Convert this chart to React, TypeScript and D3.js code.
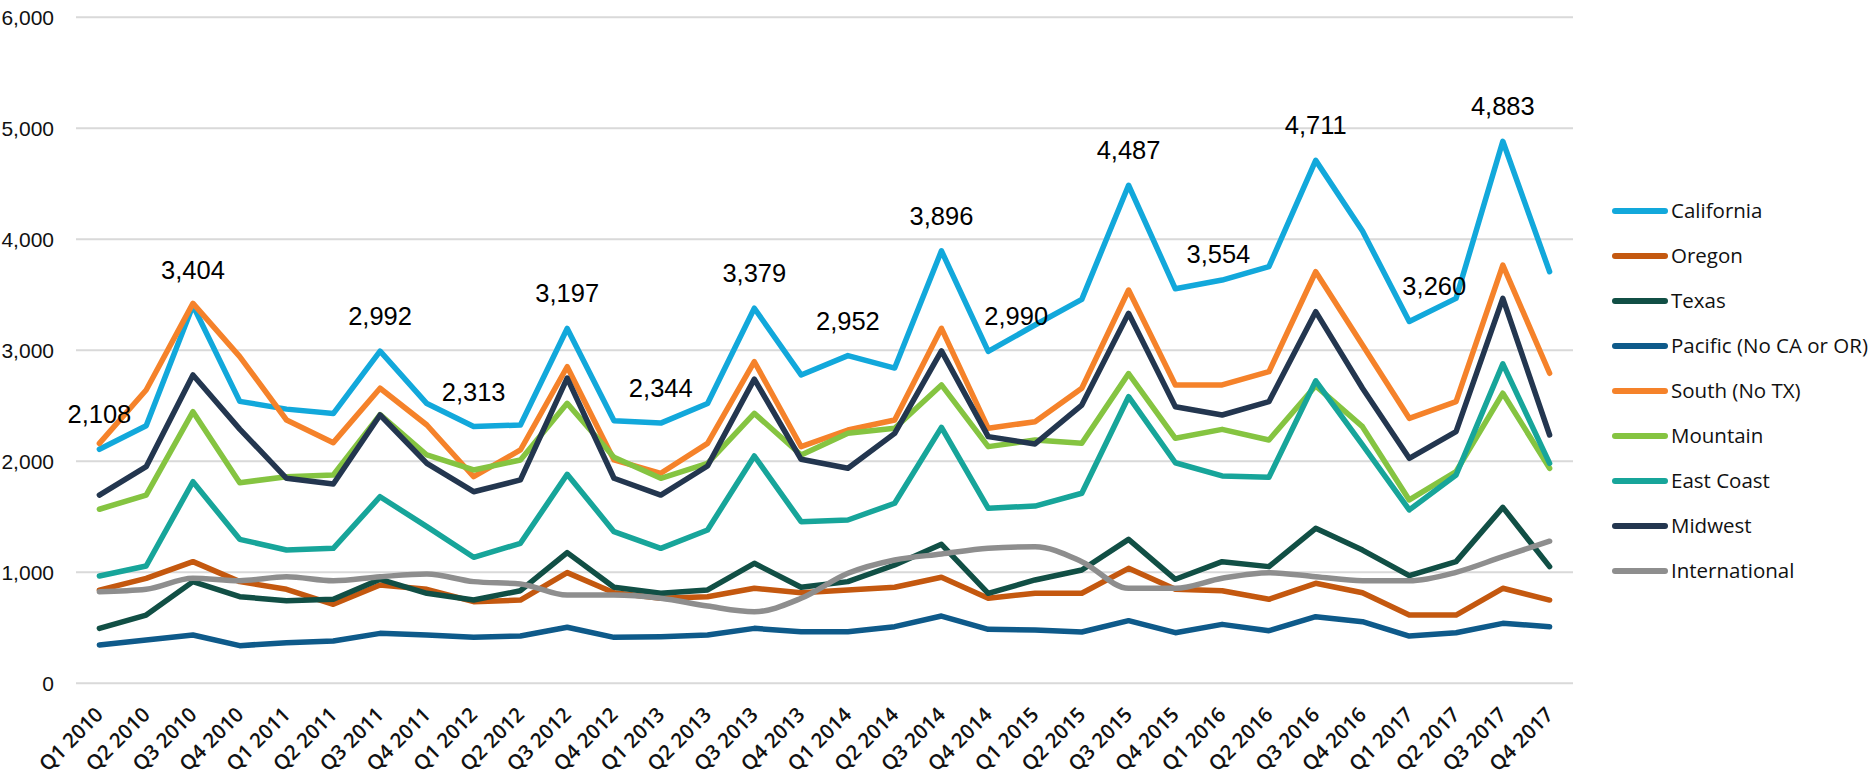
import * as React from 'react';
import * as d3 from 'd3';

const quarters = [
    'Q1 2010', 'Q2 2010', 'Q3 2010', 'Q4 2010', 'Q1 2011', 'Q2 2011', 'Q3 2011', 'Q4 2011',
    'Q1 2012', 'Q2 2012', 'Q3 2012', 'Q4 2012', 'Q1 2013', 'Q2 2013', 'Q3 2013', 'Q4 2013',
    'Q1 2014', 'Q2 2014', 'Q3 2014', 'Q4 2014', 'Q1 2015', 'Q2 2015', 'Q3 2015', 'Q4 2015',
    'Q1 2016', 'Q2 2016', 'Q3 2016', 'Q4 2016', 'Q1 2017', 'Q2 2017', 'Q3 2017', 'Q4 2017',
];

const california = [2108, 2320, 3404, 2540, 2470, 2430, 2992, 2520, 2313, 2327, 3197, 2366, 2344, 2520, 3379, 2778, 2952, 2840, 3896, 2990, 3228, 3459, 4487, 3554, 3633, 3753, 4711, 4075, 3260, 3468, 4883, 3708];
const oregon = [840, 946, 1096, 916, 847, 712, 886, 847, 735, 750, 997, 816, 766, 780, 856, 816, 841, 865, 955, 766, 811, 811, 1036, 847, 834, 757, 901, 816, 615, 615, 856, 750];
const texas = [495, 615, 916, 780, 744, 757, 937, 811, 750, 834, 1177, 865, 811, 841, 1081, 865, 916, 1066, 1252, 811, 931, 1021, 1297, 937, 1096, 1051, 1396, 1200, 970, 1096, 1585, 1051];
const pacific = [345, 390, 435, 339, 366, 381, 450, 435, 414, 426, 505, 414, 420, 435, 495, 465, 465, 510, 606, 486, 480, 462, 564, 456, 531, 474, 600, 555, 426, 456, 540, 510];
const south = [2162, 2642, 3423, 2943, 2372, 2168, 2658, 2327, 1861, 2102, 2852, 2012, 1892, 2162, 2897, 2132, 2282, 2372, 3198, 2297, 2357, 2658, 3543, 2688, 2688, 2807, 3708, 3048, 2387, 2537, 3768, 2793];
const mountain = [1568, 1696, 2447, 1807, 1861, 1877, 2420, 2057, 1922, 2012, 2522, 2036, 1847, 1982, 2432, 2057, 2252, 2297, 2688, 2132, 2192, 2162, 2790, 2207, 2288, 2192, 2680, 2312, 1652, 1907, 2613, 1937];
const eastCoast = [967, 1057, 1816, 1297, 1201, 1216, 1681, 1411, 1135, 1261, 1883, 1366, 1216, 1381, 2048, 1456, 1471, 1622, 2306, 1577, 1597, 1712, 2582, 1987, 1868, 1856, 2725, 2147, 1562, 1877, 2878, 1982];
const midwest = [1696, 1952, 2778, 2290, 1847, 1795, 2417, 1982, 1726, 1832, 2750, 1847, 1696, 1958, 2740, 2018, 1937, 2252, 2995, 2222, 2156, 2507, 3333, 2492, 2417, 2537, 3348, 2658, 2027, 2267, 3468, 2237];
const international = [825, 847, 946, 924, 960, 924, 960, 985, 916, 895, 795, 795, 766, 696, 645, 766, 991, 1111, 1165, 1216, 1231, 1096, 856, 856, 946, 997, 960, 924, 924, 1000, 1141, 1280];

const seriesNames = ['California', 'Oregon', 'Texas', 'Pacific (No CA or OR)', 'South (No TX)', 'Mountain', 'East Coast', 'Midwest', 'International'];
const seriesValues = [california, oregon, texas, pacific, south, mountain, eastCoast, midwest, international];
const seriesColors = ['#12A8DB', '#C4580F', '#114F45', '#0E5A8A', '#F5822A', '#85C441', '#17A59A', '#23364F', '#8E8E8E'];

const yTicks = [0, 1000, 2000, 3000, 4000, 5000, 6000];

// California points that carry a value label, with a small sideways nudge
const labelIndex = [0, 2, 6, 8, 10, 12, 14, 16, 18, 19, 22, 23, 26, 28, 30];
const labelNudge = [0, 0, 0, 0, 0, 0, 0, 0, 0, 28, 0, 43, 0, 25, 0];

const width = 1874;
const height = 778;

const App: React.FunctionComponent = () => {
    const ref = React.useRef<SVGSVGElement>(null);

    React.useEffect(() => {
        if (!ref.current) {
            return;
        }
        const svg = d3.select(ref.current);
        svg.selectAll('*').remove();

        const x = d3.scaleBand<string>().domain(quarters).range([76, 1573]).padding(0);
        const xc = (q: string) => (x(q) as number) + x.bandwidth() / 2;
        const y = d3.scaleLinear().domain([0, 6000]).range([683.3, 17.3]);

        // grid + y labels
        svg.append('g').selectAll('line')
            .data(yTicks)
            .join('line')
            .attr('x1', 76).attr('x2', 1573)
            .attr('y1', d => y(d)).attr('y2', d => y(d))
            .attr('stroke', '#D9D9D9').attr('stroke-width', 2);

        svg.append('g').selectAll('text')
            .data(yTicks)
            .join('text')
            .attr('x', 54)
            .attr('y', d => y(d))
            .attr('dy', '0.36em')
            .attr('text-anchor', 'end')
            .attr('font-family', '"Liberation Sans", Arial, sans-serif')
            .attr('font-size', 21)
            .attr('fill', '#111')
            .text(d => d3.format(',')(d));

        // x labels
        svg.append('g').selectAll('text')
            .data(quarters)
            .join('text')
            .attr('transform', d => `translate(${xc(d) + 5},${716}) rotate(-45)`)
            .attr('text-anchor', 'end')
            .attr('font-family', '"Open Sans", sans-serif')
            .attr('font-weight', 600)
            .attr('font-size', 20.5)
            .attr('fill', '#111')
            .text(d => d);

        // lines
        const line = d3.line<number>()
            .x((d, i) => xc(quarters[i]))
            .y(d => y(d));
        const smooth = d3.line<number>()
            .x((d, i) => xc(quarters[i]))
            .y(d => y(d))
            .curve(d3.curveMonotoneX);

        svg.append('g').selectAll('path')
            .data(seriesValues)
            .join('path')
            .attr('d', (d, i) => (i === 8 ? smooth(d) : line(d)) as string)
            .attr('fill', 'none')
            .attr('stroke', (d, i) => seriesColors[i])
            .attr('stroke-width', 5.5)
            .attr('stroke-linejoin', 'round')
            .attr('stroke-linecap', 'round');

        // data labels on California
        svg.append('g').selectAll('text')
            .data(labelIndex)
            .join('text')
            .attr('x', (d, i) => xc(quarters[d]) + labelNudge[i])
            .attr('y', d => y(california[d]) - 26)
            .attr('text-anchor', 'middle')
            .attr('font-family', '"Liberation Sans", Arial, sans-serif')
            .attr('font-size', 25.5)
            .attr('fill', '#000')
            .text(d => d3.format(',')(california[d]));

        // legend
        const legend = svg.append('g').selectAll('g')
            .data(seriesNames)
            .join('g')
            .attr('transform', (d, i) => `translate(0,${211 + i * 45})`);
        legend.append('line')
            .attr('x1', 1615).attr('x2', 1665)
            .attr('stroke', (d, i) => seriesColors[i])
            .attr('stroke-width', 6)
            .attr('stroke-linecap', 'round');
        legend.append('text')
            .attr('x', 1671)
            .attr('dy', '0.36em')
            .attr('font-family', '"Open Sans", sans-serif')
            .attr('font-size', 20.5)
            .attr('fill', '#111')
            .text(d => d);
    });

    return (
        <svg ref={ref} width={width} height={height}
            style={{ position: 'absolute', left: 0, top: 0, background: '#fff' }} />
    );
};

export default App;
